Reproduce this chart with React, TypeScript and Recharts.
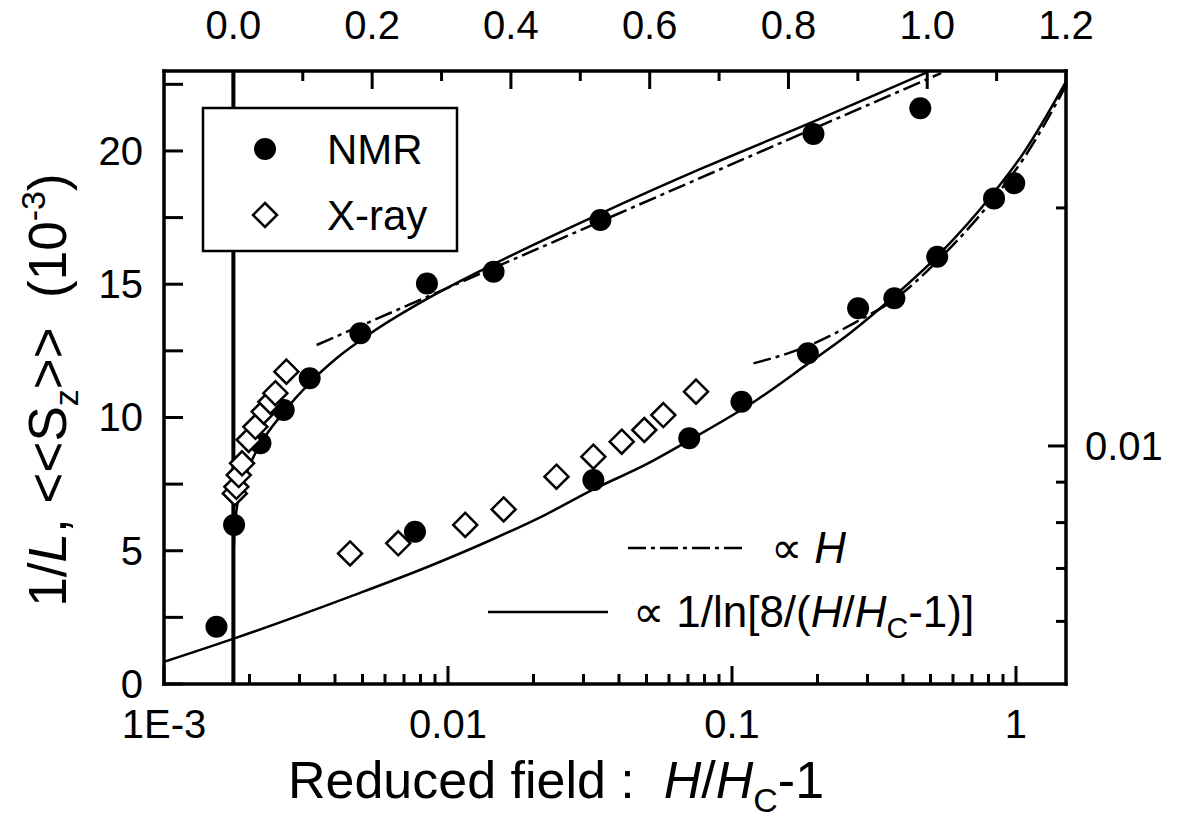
import React from 'react';
import { ComposedChart, Line, Scatter, XAxis, YAxis, ReferenceLine, Legend } from 'recharts';

const FONT = '"Liberation Sans", Arial, Helvetica, sans-serif';
const W = 1183;
const H = 821;
const PLOT = { left: 164, right: 1066, top: 71, bottom: 684 };

// upper branch, read against the top (linear) axis
const NMR_UPPER_X = [0.001, 0.039, 0.0725, 0.11, 0.183, 0.279, 0.375, 0.529, 0.836, 0.99];
const NMR_UPPER_Y = [5.97, 9.03, 10.28, 11.47, 13.16, 15.03, 15.47, 17.41, 20.64, 21.6];
const XRAY_UPPER_X = [0.002, 0.0043, 0.0077, 0.0125, 0.0221, 0.0317, 0.0437, 0.0533, 0.0605, 0.0764];
const XRAY_UPPER_Y = [7.15, 7.4, 7.84, 8.28, 9.16, 9.65, 10.22, 10.59, 10.91, 11.72];
const UPPER_LN_X = [0.0002, 0.001, 0.004, 0.01, 0.02, 0.039, 0.0725, 0.11, 0.15, 0.2, 0.279, 0.375, 0.529, 0.68, 0.836, 1.0];
const UPPER_LN_Y = [4.7, 5.4, 6.4, 7.2, 8.0, 9.0, 10.2, 11.3, 12.25, 13.2, 14.45, 15.75, 17.65, 19.4, 21.1, 22.95];
const UPPER_H_X = [0.12, 1.02];
const UPPER_H_Y = [12.72, 22.92];

// lower branch, read against the bottom (log) axis
const NMR_LOWER_X = [0.00153, 0.00765, 0.0325, 0.0707, 0.108, 0.185, 0.278, 0.373, 0.528, 0.837, 0.986];
const NMR_LOWER_Y = [2.15, 5.71, 7.65, 9.22, 10.59, 12.41, 14.1, 14.47, 16.03, 18.22, 18.79];
const XRAY_LOWER_X = [0.00452, 0.00668, 0.0115, 0.0157, 0.0241, 0.0325, 0.0409, 0.0491, 0.0573, 0.0747];
const XRAY_LOWER_Y = [4.9, 5.28, 5.97, 6.55, 7.78, 8.53, 9.09, 9.53, 10.09, 10.97];
const LOWER_LN_X = [0.001, 0.00177, 0.00452, 0.0085, 0.0145, 0.022, 0.0325, 0.05, 0.0711, 0.12, 0.1856, 0.26, 0.37, 0.526, 0.832, 1.061, 1.5];
const LOWER_LN_Y = [0.83, 1.71, 3.28, 4.4, 5.45, 6.35, 7.3, 8.25, 9.16, 10.6, 12.03, 13.16, 14.53, 16.03, 18.41, 19.91, 22.6];
const LOWER_H_X = [0.119, 0.185, 0.282, 0.37, 0.526, 0.832, 1.061, 1.5];
const LOWER_H_Y = [12.03, 12.68, 13.66, 14.4, 15.85, 18.2, 19.7, 22.45];

// ticks
const TOP_TICKS = [0, 0.1, 0.2, 0.3, 0.4, 0.5, 0.6, 0.7, 0.8, 0.9, 1.0, 1.1, 1.2];
const BOTTOM_MAJOR = [0.001, 0.01, 0.1, 1];
const BOTTOM_LABELS = ['1E-3', '0.01', '0.1', '1'];
const BOTTOM_TICKS = [
  0.001, 0.002, 0.003, 0.004, 0.005, 0.006, 0.007, 0.008, 0.009,
  0.01, 0.02, 0.03, 0.04, 0.05, 0.06, 0.07, 0.08, 0.09,
  0.1, 0.2, 0.3, 0.4, 0.5, 0.6, 0.7, 0.8, 0.9, 1,
];
const LEFT_TICKS = [0, 2.5, 5, 7.5, 10, 12.5, 15, 17.5, 20, 22.5];
const RIGHT_TICKS = [0.006, 0.007, 0.008, 0.009, 0.01, 0.02];

const pts = (xs: number[], ys: number[]) => xs.map((x, i) => ({ x, y: ys[i] }));

const AXIS_LINE = { stroke: '#000', strokeWidth: 3.5, strokeLinecap: 'square' as const };
const TICK_FONT = 40;

function TopTick({ x, payload }: any) {
  const v = payload.value;
  const major = Math.round(v * 10) % 2 === 0;
  return (
    <g>
      <line x1={x} x2={x} y1={PLOT.top} y2={PLOT.top + (major ? 18 : 10)} stroke="#000" strokeWidth={3} />
      {major && (
        <text x={x} y={39} textAnchor="middle" fontSize={TICK_FONT} fontFamily={FONT} fill="#000">
          {v.toFixed(1)}
        </text>
      )}
    </g>
  );
}

function BottomTick({ x, payload }: any) {
  const v = payload.value;
  const idx = BOTTOM_MAJOR.findIndex((m) => Math.abs(v - m) / m < 1e-6);
  const major = idx >= 0;
  return (
    <g>
      <line x1={x} x2={x} y1={PLOT.bottom} y2={PLOT.bottom - (major ? 18 : 10)} stroke="#000" strokeWidth={3} />
      {major && (
        <text x={x} y={738} textAnchor="middle" fontSize={TICK_FONT} fontFamily={FONT} fill="#000">
          {BOTTOM_LABELS[idx]}
        </text>
      )}
    </g>
  );
}

function LeftTick({ y, payload }: any) {
  const v = payload.value;
  const labelled = v % 5 === 0;
  return (
    <g>
      <line x1={PLOT.left} x2={PLOT.left + 19} y1={y} y2={y} stroke="#000" strokeWidth={3} />
      {labelled && (
        <text x={143} y={y + 14} textAnchor="end" fontSize={TICK_FONT} fontFamily={FONT} fill="#000">
          {v}
        </text>
      )}
    </g>
  );
}

function RightTick({ y, payload }: any) {
  const v = payload.value;
  const major = Math.abs(v - 0.01) < 1e-9;
  return (
    <g>
      <line x1={PLOT.right} x2={PLOT.right - (major ? 18 : 10)} y1={y} y2={y} stroke="#000" strokeWidth={3} />
      {major && (
        <text x={1085} y={y + 14} textAnchor="start" fontSize={TICK_FONT} fontFamily={FONT} fill="#000">
          0.01
        </text>
      )}
    </g>
  );
}

function Dot({ cx, cy }: any) {
  return <circle cx={cx} cy={cy} r={11} fill="#000" />;
}

function Diamond({ cx, cy }: any) {
  const r = 12;
  return (
    <polygon
      points={`${cx},${cy - r} ${cx + r},${cy} ${cx},${cy + r} ${cx - r},${cy}`}
      fill="#fff"
      stroke="#000"
      strokeWidth={2.5}
    />
  );
}

const DASH_DOT = '18 5 4 5';

function Overlay() {
  return (
    <svg width={W} height={H} style={{ display: 'block', fontFamily: FONT }}>
      {/* symbol legend */}
      <rect x={203} y={108} width={254} height={143} fill="#fff" stroke="#000" strokeWidth={2.5} />
      <circle cx={265} cy={149} r={11} fill="#000" />
      <text x={327} y={164} fontSize={42} fill="#000">NMR</text>
      <polygon points="265,203 277,215 265,227 253,215" fill="#fff" stroke="#000" strokeWidth={2.5} />
      <text x={327} y={230} fontSize={42} fill="#000">X-ray</text>

      {/* line legend */}
      <line x1={628} x2={747} y1={548} y2={548} stroke="#000" strokeWidth={2.5} strokeDasharray={DASH_DOT} />
      <text x={771} y={563} fontSize={44} fill="#000" style={{ whiteSpace: 'pre' }}>
        {'\u221D '}
        <tspan fontStyle="italic">H</tspan>
      </text>
      <line x1={488} x2={608} y1={612} y2={612} stroke="#000" strokeWidth={2.5} />
      <text x={633} y={627} fontSize={44} fill="#000" style={{ whiteSpace: 'pre' }}>
        {'\u221D 1/ln[8/('}
        <tspan fontStyle="italic">H</tspan>
        {'/'}
        <tspan fontStyle="italic">H</tspan>
        <tspan fontSize={30} dy={11}>C</tspan>
        <tspan dy={-11}>-1)]</tspan>
      </text>

      {/* axis titles */}
      <text x={556} y={798} textAnchor="middle" fontSize={52} fill="#000" style={{ whiteSpace: 'pre' }}>
        {'Reduced field :  '}
        <tspan fontStyle="italic">H</tspan>
        {'/'}
        <tspan fontStyle="italic">H</tspan>
        <tspan fontSize={34} dy={14}>C</tspan>
        <tspan dy={-14}>-1</tspan>
      </text>
      <text
        transform="rotate(-90)"
        x={-390}
        y={66}
        textAnchor="middle"
        fontSize={53}
        fill="#000"
        style={{ whiteSpace: 'pre' }}
      >
        {'1/'}
        <tspan fontStyle="italic">L</tspan>
        {', <<S'}
        <tspan fontSize={34} dy={12}>z</tspan>
        <tspan dy={-12}>{'>>  (10'}</tspan>
        <tspan fontSize={34} dy={-21}>-3</tspan>
        <tspan dy={21}>)</tspan>
      </text>
    </svg>
  );
}

export default function App() {
  return (
    <div style={{ position: 'fixed', left: 0, top: 0, width: W, height: H, background: '#fff' }}>
      <ComposedChart width={W} height={H} margin={{ top: 0, right: 0, bottom: 0, left: 0 }}>
        <XAxis
          xAxisId="top"
          orientation="top"
          type="number"
          dataKey="x"
          domain={[-0.1, 1.2]}
          allowDataOverflow
          ticks={TOP_TICKS}
          interval={0}
          height={PLOT.top}
          tickSize={0}
          tickMargin={0}
          tickLine={false}
          axisLine={AXIS_LINE}
          tick={(p: any) => <TopTick {...p} />}
        />
        <XAxis
          xAxisId="bot"
          orientation="bottom"
          type="number"
          scale="log"
          dataKey="x"
          domain={[0.001, 1.5]}
          allowDataOverflow
          ticks={BOTTOM_TICKS}
          interval={0}
          height={H - PLOT.bottom}
          tickSize={0}
          tickMargin={0}
          tickLine={false}
          axisLine={AXIS_LINE}
          tick={(p: any) => <BottomTick {...p} />}
        />
        <YAxis
          yAxisId="left"
          orientation="left"
          type="number"
          dataKey="y"
          domain={[0, 23]}
          allowDataOverflow
          ticks={LEFT_TICKS}
          interval={0}
          width={PLOT.left}
          tickSize={0}
          tickMargin={0}
          tickLine={false}
          axisLine={AXIS_LINE}
          tick={(p: any) => <LeftTick {...p} />}
        />
        <YAxis
          yAxisId="right"
          orientation="right"
          type="number"
          scale="log"
          domain={[0.005, 0.0298]}
          allowDataOverflow
          ticks={RIGHT_TICKS}
          interval={0}
          width={W - PLOT.right}
          tickSize={0}
          tickMargin={0}
          tickLine={false}
          axisLine={AXIS_LINE}
          tick={(p: any) => <RightTick {...p} />}
        />

        <ReferenceLine xAxisId="top" yAxisId="left" x={0} stroke="#000" strokeWidth={4} />

        <Line
          xAxisId="top"
          yAxisId="left"
          data={pts(UPPER_LN_X, UPPER_LN_Y)}
          dataKey="y"
          type="monotone"
          stroke="#000"
          strokeWidth={2.5}
          dot={false}
          isAnimationActive={false}
        />
        <Line
          xAxisId="top"
          yAxisId="left"
          data={pts(UPPER_H_X, UPPER_H_Y)}
          dataKey="y"
          type="linear"
          stroke="#000"
          strokeWidth={2.5}
          strokeDasharray={DASH_DOT}
          dot={false}
          isAnimationActive={false}
        />
        <Line
          xAxisId="bot"
          yAxisId="left"
          data={pts(LOWER_LN_X, LOWER_LN_Y)}
          dataKey="y"
          type="monotone"
          stroke="#000"
          strokeWidth={2.5}
          dot={false}
          isAnimationActive={false}
        />
        <Line
          xAxisId="bot"
          yAxisId="left"
          data={pts(LOWER_H_X, LOWER_H_Y)}
          dataKey="y"
          type="monotone"
          stroke="#000"
          strokeWidth={2.5}
          strokeDasharray={DASH_DOT}
          dot={false}
          isAnimationActive={false}
        />

        <Scatter
          xAxisId="top"
          yAxisId="left"
          data={pts(NMR_UPPER_X, NMR_UPPER_Y)}
          dataKey="y"
          shape={(p: any) => <Dot {...p} />}
          isAnimationActive={false}
        />
        <Scatter
          xAxisId="top"
          yAxisId="left"
          data={pts(XRAY_UPPER_X, XRAY_UPPER_Y)}
          dataKey="y"
          shape={(p: any) => <Diamond {...p} />}
          isAnimationActive={false}
        />
        <Scatter
          xAxisId="bot"
          yAxisId="left"
          data={pts(XRAY_LOWER_X, XRAY_LOWER_Y)}
          dataKey="y"
          shape={(p: any) => <Diamond {...p} />}
          isAnimationActive={false}
        />
        <Scatter
          xAxisId="bot"
          yAxisId="left"
          data={pts(NMR_LOWER_X, NMR_LOWER_Y)}
          dataKey="y"
          shape={(p: any) => <Dot {...p} />}
          isAnimationActive={false}
        />

        <Legend
          layout="horizontal"
          verticalAlign="middle"
          align="center"
          wrapperStyle={{ position: 'absolute', left: 0, top: 0, width: W, height: H, pointerEvents: 'none' }}
          content={() => <Overlay />}
        />
      </ComposedChart>
    </div>
  );
}
